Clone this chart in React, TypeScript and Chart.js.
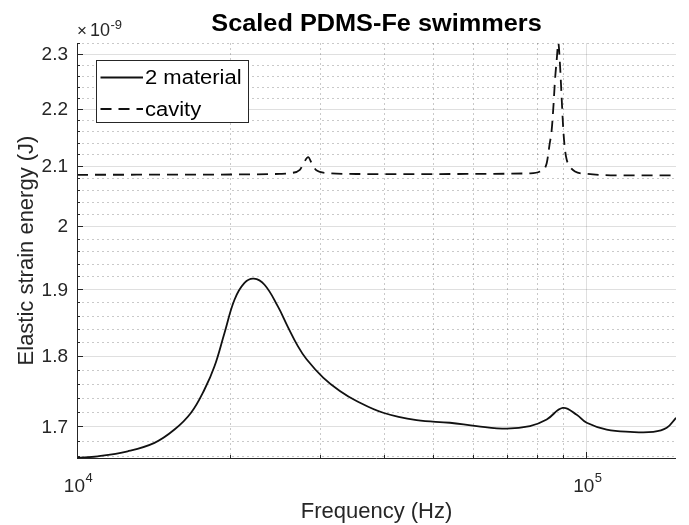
import React, { useEffect, useRef } from "react";
import { Chart, registerables } from "chart.js";

Chart.register(...registerables);

// ---- data (energy in units of 1e-9 J) ----
const solidFreq = [10000, 10980, 12575, 14195, 15538, 16747, 17794, 18619, 19480, 20381, 21324, 22241, 23345, 24796, 25939, 27141, 28232, 30430, 32818, 35389, 39920, 46431, 53977, 60915, 69782, 77514, 83601, 89898, 95752, 100182, 109660, 121860, 135400, 143860, 150000];
const solidEnergy = [1.6572, 1.6593, 1.6661, 1.6775, 1.6957, 1.719, 1.7517, 1.785, 1.834, 1.8841, 1.91, 1.9166, 1.9072, 1.8739, 1.8432, 1.8145, 1.7952, 1.7687, 1.7496, 1.7355, 1.719, 1.7087, 1.7051, 1.7004, 1.697, 1.7004, 1.7096, 1.7257, 1.7163, 1.7051, 1.6957, 1.6926, 1.6926, 1.6981, 1.7119];

const cavityFreq = [10000, 15000, 20000, 25020, 26175, 27387, 27888, 28437, 28917, 29445, 29983, 31370, 35921, 45000, 60000, 77514, 81099, 83601, 84668, 85515, 86216, 86801, 87473, 88110, 88789, 89394, 90123, 90818, 91519, 92899, 95015, 100182, 116480, 150000];
const cavityEnergy = [2.0852, 2.0854, 2.0857, 2.0868, 2.088, 2.0936, 2.1057, 2.1152, 2.1039, 2.0936, 2.0903, 2.0877, 2.0865, 2.0864, 2.0866, 2.0877, 2.0907, 2.105, 2.1365, 2.1625, 2.2068, 2.252, 2.2889, 2.3206, 2.2795, 2.2248, 2.1625, 2.1278, 2.1107, 2.0988, 2.0907, 2.0869, 2.0843, 2.0841];

const seriesNames = ["2 material", "cavity"];
const titleText = "Scaled PDMS-Fe swimmers";
const xTitle = "Frequency (Hz)";
const yTitle = "Elastic strain energy (J)";
const yExponent = "-9";

const yMajorTicks = [1.7, 1.8, 1.9, 2.0, 2.1, 2.2, 2.3];
const yTickLabels = ["1.7", "1.8", "1.9", "2", "2.1", "2.2", "2.3"];
const yMinorTicks = [1.66, 1.68, 1.72, 1.74, 1.76, 1.78, 1.82, 1.84, 1.86, 1.88, 1.92, 1.94, 1.96, 1.98, 2.02, 2.04, 2.06, 2.08, 2.12, 2.14, 2.16, 2.18, 2.22, 2.24, 2.26, 2.28, 2.32];
const xMajorTicks = [10000, 100000];
const xTickExponents = ["4", "5"];
const xMinorTicks = [20000, 30000, 40000, 50000, 60000, 70000, 80000, 90000];

const X_MIN = 10000;
const X_MAX = 150000;
const Y_MIN = 1.657;
const Y_MAX = 2.3206;

const FONT = '"Liberation Sans", Arial, Helvetica, sans-serif';
const INK = "#262626";

function hLine(ctx: CanvasRenderingContext2D, x1: number, x2: number, y: number) {
  ctx.beginPath();
  ctx.moveTo(x1, y);
  ctx.lineTo(x2, y);
  ctx.stroke();
}
function vLine(ctx: CanvasRenderingContext2D, x: number, y1: number, y2: number) {
  ctx.beginPath();
  ctx.moveTo(x, y1);
  ctx.lineTo(x, y2);
  ctx.stroke();
}
function stretchText(ctx: CanvasRenderingContext2D, text: string, x: number, y: number, sx: number, align: CanvasTextAlign) {
  ctx.save();
  ctx.translate(x, y);
  ctx.scale(sx, 1);
  ctx.textAlign = align;
  ctx.fillText(text, 0, 0);
  ctx.restore();
}

const matlabPlugin = {
  id: "matlabAxes",
  beforeDatasetsDraw(chart: any) {
    const { ctx, chartArea: a, scales } = chart;
    const xs = scales.x;
    const ys = scales.y;
    ctx.save();
    ctx.lineWidth = 1;
    ctx.strokeStyle = "rgba(38,38,38,0.25)";
    ctx.setLineDash([2, 3]);
    for (const v of yMinorTicks) {
      const y = Math.round(ys.getPixelForValue(v)) + 0.5;
      hLine(ctx, a.left, a.right, y);
    }
    for (const v of xMinorTicks) {
      const x = Math.round(xs.getPixelForValue(v)) + 0.5;
      vLine(ctx, x, a.top, a.bottom);
    }
    ctx.setLineDash([]);
    ctx.strokeStyle = "rgba(38,38,38,0.15)";
    for (const v of yMajorTicks) {
      const y = Math.round(ys.getPixelForValue(v)) + 0.5;
      hLine(ctx, a.left, a.right, y);
    }
    for (const v of xMajorTicks) {
      const x = Math.round(xs.getPixelForValue(v)) + 0.5;
      vLine(ctx, x, a.top, a.bottom);
    }
    ctx.restore();
  },
  afterDatasetsDraw(chart: any) {
    const { ctx, chartArea: a, scales } = chart;
    const xs = scales.x;
    const ys = scales.y;
    ctx.save();
    ctx.strokeStyle = INK;
    ctx.fillStyle = INK;
    ctx.lineWidth = 1;
    const left = Math.round(a.left) + 0.5;
    const bottom = Math.round(a.bottom) + 0.5;
    // axis lines
    vLine(ctx, left, a.top, a.bottom + 0.5);
    hLine(ctx, a.left, a.right, bottom);
    // ticks (inward)
    for (const v of yMajorTicks) {
      const y = Math.round(ys.getPixelForValue(v)) + 0.5;
      hLine(ctx, a.left, a.left + 6, y);
    }
    for (const v of yMinorTicks) {
      const y = Math.round(ys.getPixelForValue(v)) + 0.5;
      hLine(ctx, a.left, a.left + 3, y);
    }
    for (const v of xMajorTicks) {
      const x = Math.round(xs.getPixelForValue(v)) + 0.5;
      vLine(ctx, x, a.bottom, a.bottom - 6);
    }
    for (const v of xMinorTicks) {
      const x = Math.round(xs.getPixelForValue(v)) + 0.5;
      vLine(ctx, x, a.bottom, a.bottom - 3);
    }
    // y tick labels
    ctx.font = `19px ${FONT}`;
    ctx.textAlign = "right";
    ctx.textBaseline = "middle";
    yMajorTicks.forEach((v, i) => {
      ctx.fillText(yTickLabels[i], a.left - 9, ys.getPixelForValue(v) + 1);
    });
    // x tick labels 10^n
    ctx.textBaseline = "alphabetic";
    ctx.textAlign = "left";
    xMajorTicks.forEach((v, i) => {
      const x = xs.getPixelForValue(v);
      ctx.font = `19px ${FONT}`;
      const wBase = ctx.measureText("10").width;
      ctx.font = `13px ${FONT}`;
      const wExp = ctx.measureText(xTickExponents[i]).width;
      const start = x - (wBase + wExp) / 2 + 1;
      ctx.font = `19px ${FONT}`;
      ctx.fillText("10", start, 491.5);
      ctx.font = `13px ${FONT}`;
      ctx.fillText(xTickExponents[i], start + wBase + 0.5, 482);
    });
    // exponent multiplier x10^-9
    ctx.font = `17px ${FONT}`;
    ctx.fillText("\u00d7", a.left, 36);
    const wTimes = ctx.measureText("\u00d7").width;
    ctx.font = `18px ${FONT}`;
    ctx.fillText("10", a.left + wTimes + 3, 36);
    const w10 = ctx.measureText("10").width;
    ctx.font = `13px ${FONT}`;
    ctx.fillText(yExponent, a.left + wTimes + 3 + w10 + 0.5, 29);
    // axis titles
    ctx.font = `22px ${FONT}`;
    ctx.textAlign = "center";
    ctx.fillText(xTitle, (a.left + a.right) / 2, 518);
    ctx.save();
    ctx.translate(33, (a.top + a.bottom) / 2);
    ctx.rotate(-Math.PI / 2);
    ctx.fillText(yTitle, 0, 0);
    ctx.restore();
    // title
    ctx.fillStyle = "#000";
    ctx.font = `bold 23px ${FONT}`;
    stretchText(ctx, titleText, (a.left + a.right) / 2, 31, 1.1, "center");
    // legend
    const lx = 96.5, ly = 60.5, lw = 152, lh = 62;
    ctx.fillStyle = "#fff";
    ctx.fillRect(lx, ly, lw, lh);
    ctx.strokeStyle = INK;
    ctx.lineWidth = 1;
    ctx.strokeRect(lx, ly, lw, lh);
    const rows = [77.5, 109];
    ctx.strokeStyle = "#111";
    ctx.lineWidth = 1.8;
    ctx.setLineDash([]);
    hLine(ctx, 100.5, 143, rows[0]);
    ctx.setLineDash([11, 7]);
    hLine(ctx, 100.5, 143, rows[1]);
    ctx.setLineDash([]);
    ctx.fillStyle = "#000";
    ctx.font = `20px ${FONT}`;
    ctx.textBaseline = "middle";
    seriesNames.forEach((name, i) => {
      stretchText(ctx, name, 145, rows[i] + 1, 1.1, "left");
    });
    ctx.restore();
  },
};

export default function App() {
  const canvasRef = useRef<HTMLCanvasElement | null>(null);
  useEffect(() => {
    const canvas = canvasRef.current;
    if (!canvas) return;
    const chart = new Chart(canvas, {
      type: "line",
      data: {
        datasets: [
          {
            label: seriesNames[0],
            data: solidFreq.map((f, i) => ({ x: f, y: solidEnergy[i] })),
            borderColor: "#111",
            borderWidth: 1.8,
            pointRadius: 0,
            fill: false,
            tension: 0.4,
          },
          {
            label: seriesNames[1],
            data: cavityFreq.map((f, i) => ({ x: f, y: cavityEnergy[i] })),
            borderColor: "#111",
            borderWidth: 1.8,
            borderDash: [11, 7],
            pointRadius: 0,
            fill: false,
            cubicInterpolationMode: "monotone",
          },
        ],
      },
      options: {
        responsive: false,
        animation: false,
        events: [],
        layout: { padding: { left: 77, right: 13, top: 43, bottom: 67 } },
        scales: {
          x: { type: "logarithmic", min: X_MIN, max: X_MAX, display: false },
          y: { type: "logarithmic", min: Y_MIN, max: Y_MAX, display: false },
        },
        plugins: {
          legend: { display: false },
          tooltip: { enabled: false },
          title: { display: false },
        },
      },
      plugins: [matlabPlugin],
    } as any);
    return () => chart.destroy();
  }, []);
  return (
    <div style={{ position: "absolute", left: 0, top: 0, width: 689, height: 525, background: "#fff" }}>
      <canvas ref={canvasRef} width={689} height={525} style={{ width: 689, height: 525 }} />
    </div>
  );
}
